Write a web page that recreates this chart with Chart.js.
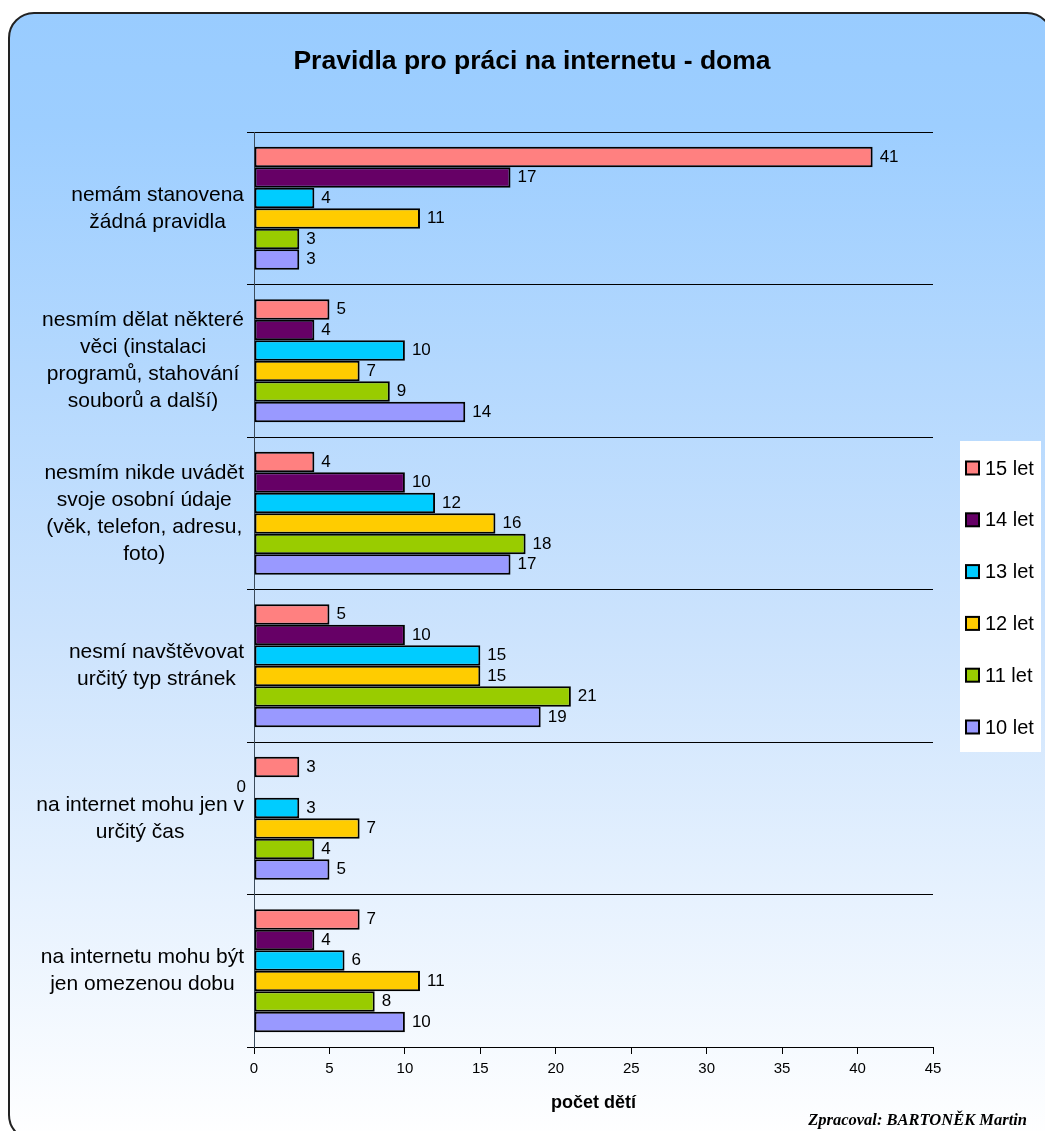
<!DOCTYPE html>
<html>
<head>
<meta charset="utf-8">
<title>Pravidla pro práci na internetu - doma</title>
<script src="https://cdn.jsdelivr.net/npm/chart.js@4.4.1/dist/chart.umd.min.js"></script>
<style>
  html, body { margin: 0; padding: 0; background: #ffffff; }
  #wrap { width: 1045px; height: 1131px; }
  canvas { display: block; }
</style>
</head>
<body>
<div id="wrap"><canvas id="chart" width="1045" height="1131"></canvas></div>
<script>
// Rules children follow at home, one group per age.
const categories = [
  ['nemám stanovena', 'žádná pravidla'],
  ['nesmím dělat některé', 'věci (instalaci', 'programů, stahování', 'souborů a další)'],
  ['nesmím nikde uvádět', 'svoje osobní údaje', '(věk, telefon, adresu,', 'foto)'],
  ['nesmí navštěvovat', 'určitý typ stránek'],
  ['na internet mohu jen v', 'určitý čas'],
  ['na internetu mohu být', 'jen omezenou dobu']
];
const seriesNames = ['15 let', '14 let', '13 let', '12 let', '11 let', '10 let'];
const age15 = [41, 5, 4, 5, 3, 7];
const age14 = [17, 4, 10, 10, 0, 4];
const age13 = [4, 10, 12, 15, 3, 6];
const age12 = [11, 7, 16, 15, 7, 11];
const age11 = [3, 9, 18, 21, 4, 8];
const age10 = [3, 14, 17, 19, 5, 10];
const xTickValues = [0, 5, 10, 15, 20, 25, 30, 35, 40, 45];
const chartTitle = 'Pravidla pro práci na internetu - doma';
const axisTitle = 'počet dětí';
const creditText = 'Zpracoval: BARTONĚK Martin';

const seriesValues = [age15, age14, age13, age12, age11, age10];
const seriesColors = ['#FF8080', '#660066', '#00CCFF', '#FFCC00', '#99CC00', '#9999FF'];
const SANS = '"Liberation Sans", Arial, Helvetica, sans-serif';
const SERIF = '"Liberation Serif", "Times New Roman", serif';

// Rounded panel with a blue-to-white gradient behind everything.
const panelPlugin = {
  id: 'panel',
  beforeDraw(chart) {
    const ctx = chart.ctx;
    const W = chart.width, H = chart.height;
    ctx.save();
    ctx.fillStyle = '#ffffff';
    ctx.fillRect(0, 0, W, H);
    const x = 9, y = 13, w = 1043, h = 1127, r = 25;
    ctx.beginPath();
    ctx.moveTo(x + r, y);
    ctx.lineTo(x + w - r, y);
    ctx.arcTo(x + w, y, x + w, y + r, r);
    ctx.lineTo(x + w, y + h - r);
    ctx.arcTo(x + w, y + h, x + w - r, y + h, r);
    ctx.lineTo(x + r, y + h);
    ctx.arcTo(x, y + h, x, y + h - r, r);
    ctx.lineTo(x, y + r);
    ctx.arcTo(x, y, x + r, y, r);
    ctx.closePath();
    const g = ctx.createLinearGradient(0, y, 0, y + h);
    g.addColorStop(0, '#99CCFF');
    g.addColorStop(0.1, '#9DCEFF');
    g.addColorStop(0.55, '#CCE3FD');
    g.addColorStop(1, '#FFFFFF');
    ctx.fillStyle = g;
    ctx.fill();
    ctx.lineWidth = 2;
    ctx.strokeStyle = '#222222';
    ctx.stroke();

    // title
    ctx.fillStyle = '#000000';
    ctx.font = 'bold 26.5px ' + SANS;
    ctx.textAlign = 'center';
    ctx.textBaseline = 'alphabetic';
    ctx.fillText(chartTitle, 532, 69);
    ctx.restore();
  }
};

// Category names, each block right-aligned to the axis and centred line by line.
const categoryLabelPlugin = {
  id: 'categoryLabels',
  afterDraw(chart) {
    const ctx = chart.ctx;
    const yScale = chart.scales.y;
    const rightEdge = 244;
    const lineH = 27;
    ctx.save();
    ctx.font = '21px ' + SANS;
    ctx.fillStyle = '#000000';
    ctx.textAlign = 'center';
    ctx.textBaseline = 'middle';
    chart.data.labels.forEach((lines, i) => {
      const cy = yScale.getPixelForTick(i);
      const maxW = Math.max(...lines.map(l => ctx.measureText(l).width));
      const cx = rightEdge - maxW / 2;
      const y0 = cy - (lines.length - 1) * lineH / 2;
      lines.forEach((l, k) => ctx.fillText(l, cx, y0 + k * lineH));
    });
    ctx.restore();
  }
};

// Value printed at the end of every bar.
const valueLabelPlugin = {
  id: 'valueLabels',
  afterDatasetsDraw(chart) {
    const ctx = chart.ctx;
    ctx.save();
    ctx.font = '17px ' + SANS;
    ctx.fillStyle = '#000000';
    ctx.textBaseline = 'middle';
    chart.data.datasets.forEach((ds, di) => {
      const meta = chart.getDatasetMeta(di);
      meta.data.forEach((bar, j) => {
        const v = ds.data[j];
        if (v === 0) {
          ctx.textAlign = 'right';
          ctx.fillText(String(v), bar.base - 8, bar.y);
        } else {
          ctx.textAlign = 'left';
          ctx.fillText(String(v), bar.x + 7, bar.y);
        }
      });
    });
    ctx.restore();
  }
};

// Legend box on the right and the author credit.
const sideLegendPlugin = {
  id: 'sideLegend',
  afterDraw(chart) {
    const ctx = chart.ctx;
    ctx.save();
    ctx.fillStyle = '#ffffff';
    ctx.fillRect(960, 441, 81, 311);
    ctx.font = '20px ' + SANS;
    ctx.textAlign = 'left';
    ctx.textBaseline = 'middle';
    chart.data.datasets.forEach((ds, i) => {
      const cy = 468 + i * 51.8;
      ctx.fillStyle = ds.backgroundColor;
      ctx.fillRect(966, cy - 6.5, 13, 13);
      ctx.lineWidth = 2;
      ctx.strokeStyle = '#000000';
      ctx.strokeRect(966, cy - 6.5, 13, 13);
      ctx.fillStyle = '#000000';
      ctx.fillText(ds.label, 985, cy + 1);
    });

    ctx.font = 'italic bold 16.5px ' + SERIF;
    ctx.textAlign = 'right';
    ctx.textBaseline = 'alphabetic';
    ctx.fillText(creditText, 1027, 1125);
    ctx.restore();
  }
};

const datasets = seriesNames.map((name, i) => ({
  label: name,
  data: seriesValues[i],
  backgroundColor: seriesColors[i],
  borderColor: '#000000',
  borderWidth: 2,
  borderSkipped: false,
  categoryPercentage: 0.806,
  barPercentage: 1.0
}));

new Chart(document.getElementById('chart'), {
  type: 'bar',
  data: { labels: categories, datasets },
  options: {
    indexAxis: 'y',
    responsive: false,
    animation: false,
    devicePixelRatio: 1,
    layout: { padding: { top: 132, right: 112, left: 0, bottom: 0 } },
    plugins: {
      legend: { display: false },
      title: { display: false },
      tooltip: { enabled: false }
    },
    scales: {
      x: {
        type: 'linear',
        min: xTickValues[0],
        max: xTickValues[xTickValues.length - 1],
        afterBuildTicks(scale) { scale.ticks = xTickValues.map(v => ({ value: v })); },
        afterFit(scale) { scale.height = 84; },
        ticks: {
          color: '#000000',
          font: { family: SANS, size: 15 },
          padding: 6
        },
        grid: {
          drawOnChartArea: false,
          drawTicks: true,
          tickLength: 7,
          color: '#000000',
          lineWidth: 1
        },
        border: { display: true, color: '#000000', width: 1 },
        title: {
          display: true,
          text: axisTitle,
          color: '#000000',
          font: { family: SANS, size: 18, weight: 'bold' },
          padding: { top: 0, bottom: 17 }
        }
      },
      y: {
        type: 'category',
        afterFit(scale) { scale.width = 254; },
        ticks: { display: false },
        grid: {
          offset: true,
          drawTicks: true,
          tickLength: 7,
          color: '#000000',
          lineWidth: 1
        },
        border: { display: true, color: '#3a4a5a', width: 1 }
      }
    }
  },
  plugins: [panelPlugin, categoryLabelPlugin, valueLabelPlugin, sideLegendPlugin]
});
</script>
</body>
</html>
